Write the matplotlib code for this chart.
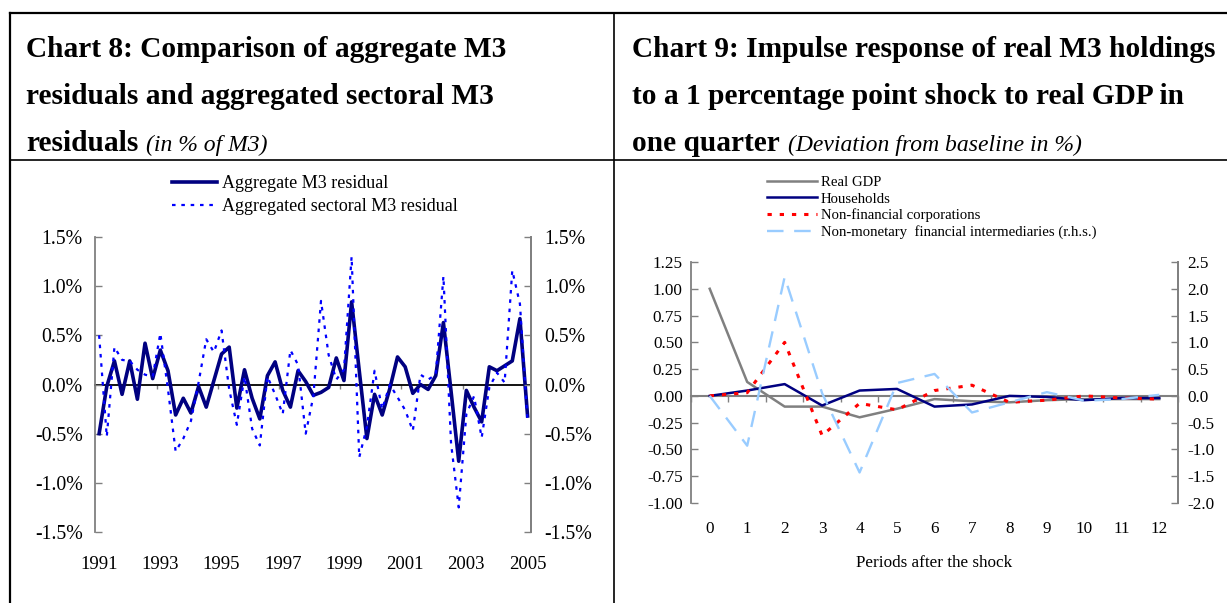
import matplotlib
matplotlib.use('Agg')
import matplotlib.pyplot as plt
from matplotlib.lines import Line2D
import numpy as np

plt.rcParams['font.family'] = ['Liberation Serif', 'DejaVu Serif']

# ---------------- Chart 8 data (quarterly, 1991Q1 - 2005Q1) ----------------
year_labels = ['1991', '1993', '1995', '1997', '1999', '2001', '2003', '2005']
aggregate = [-0.50, -0.02, 0.24, -0.10, 0.24, -0.15, 0.42, 0.06, 0.35, 0.14,
             -0.31, -0.14, -0.29, -0.02, -0.23, 0.04, 0.31, 0.38, -0.24, 0.15,
             -0.14, -0.35, 0.09, 0.23, -0.06, -0.23, 0.14, 0.03, -0.11, -0.08,
             -0.03, 0.27, 0.04, 0.84, 0.14, -0.55, -0.10, -0.31, -0.04, 0.28,
             0.18, -0.09, 0.00, -0.05, 0.09, 0.63, -0.07, -0.78, -0.06, -0.23,
             -0.38, 0.18, 0.14, 0.19, 0.24, 0.67, -0.32]
sectoral = [0.50, -0.53, 0.38, 0.25, 0.24, 0.15, 0.10, 0.08, 0.52, -0.05,
            -0.68, -0.55, -0.37, 0.02, 0.46, 0.33, 0.55, -0.05, -0.41, 0.08,
            -0.45, -0.62, 0.08, -0.10, -0.30, 0.35, 0.20, -0.50, -0.12, 0.85,
            0.30, 0.05, 0.15, 1.30, -0.74, -0.43, 0.14, -0.25, 0.00, -0.13,
            -0.26, -0.47, 0.10, 0.05, 0.10, 1.10, -0.60, -1.25, -0.30, -0.12,
            -0.54, -0.03, 0.12, 0.02, 1.16, 0.82, -0.38]
pct_ticks = [-1.5, -1.0, -0.5, 0.0, 0.5, 1.0, 1.5]

# ---------------- Chart 9 data ----------------
periods = list(range(13))
real_gdp = [1.00, 0.13, -0.10, -0.10, -0.20, -0.12, -0.03, -0.05, -0.06, -0.04, -0.03, -0.03, -0.03]
households = [0.00, 0.05, 0.11, -0.09, 0.05, 0.065, -0.10, -0.08, 0.00, -0.01, -0.04, -0.02, -0.02]
nfc = [0.00, 0.03, 0.50, -0.37, -0.07, -0.13, 0.05, 0.10, -0.06, -0.04, 0.00, -0.02, -0.03]
nmfi_rhs = [0.00, -0.93, 2.22, 0.05, -1.43, 0.24, 0.41, -0.31, -0.12, 0.07, -0.09, -0.06, 0.02]
lhs_ticks = [-1.00, -0.75, -0.50, -0.25, 0.00, 0.25, 0.50, 0.75, 1.00, 1.25]
rhs_ticks = [-2.0, -1.5, -1.0, -0.5, 0.0, 0.5, 1.0, 1.5, 2.0, 2.5]

W, H = 1227, 603
fig = plt.figure(figsize=(W / 100, H / 100), dpi=100)


def fx(px):
    return px / W


def fy(py):
    return 1 - py / H


GRAY = '#808080'
NAVY = '#000080'

# ---------------- frame lines ----------------
for (x0, y0, x1, y1, lw) in [(10, 13, 1227, 13, 1.6), (10, 160, 1227, 160, 1.2),
                             (10, 13, 10, 603, 1.6), (614, 13, 614, 603, 1.2)]:
    fig.add_artist(Line2D([fx(x0), fx(x1)], [fy(y0), fy(y1)], color='black', lw=lw,
                          transform=fig.transFigure))

# ---------------- titles ----------------
tfs = 21.2
ifs = 17
fig.text(fx(26), fy(57), 'Chart 8: Comparison of aggregate M3', fontsize=tfs, fontweight='bold', va='baseline')
fig.text(fx(26), fy(104), 'residuals and aggregated sectoral M3', fontsize=tfs, fontweight='bold', va='baseline')
t8 = fig.text(fx(26), fy(151), 'residuals', fontsize=tfs, fontweight='bold', va='baseline')
fig.text(fx(632), fy(57), 'Chart 9: Impulse response of real M3 holdings', fontsize=tfs, fontweight='bold', va='baseline')
fig.text(fx(632), fy(104), 'to a 1 percentage point shock to real GDP in', fontsize=tfs, fontweight='bold', va='baseline')
t9 = fig.text(fx(632), fy(151), 'one quarter', fontsize=tfs, fontweight='bold', va='baseline')
r = fig.canvas.get_renderer()
bb8 = t8.get_window_extent(renderer=r)
bb9 = t9.get_window_extent(renderer=r)
fig.text((bb8.x1 + 8) / W, fy(151), '(in % of M3)', fontsize=ifs, style='italic', va='baseline')
fig.text((bb9.x1 + 8) / W, fy(151), '(Deviation from baseline in %)', fontsize=ifs, style='italic', va='baseline')

# ---------------- Chart 8 ----------------
n = len(aggregate)
xq = np.arange(n)
ax1 = fig.add_axes([fx(95.3), fy(532), (531.4 - 95.3) / W, (532 - 237) / H])
l_agg, = ax1.plot(xq, aggregate, color=NAVY, lw=2.6, label='Aggregate M3 residual', zorder=3)
l_sec, = ax1.plot(xq, sectoral, color='#0000FF', lw=1.6, ls=(0, (1.6, 2.6)),
                  label='Aggregated sectoral M3 residual', zorder=4)
ax1.set_xlim(-0.5, n - 0.5)
ax1.set_ylim(-1.5, 1.5)
for s in ['top', 'bottom']:
    ax1.spines[s].set_visible(False)
for s in ['left', 'right']:
    ax1.spines[s].set_color(GRAY)
    ax1.spines[s].set_linewidth(1.3)
ax1.set_yticks(pct_ticks)
ax1.set_yticklabels([f'{v:.1f}%' for v in pct_ticks])
ax1.tick_params(axis='y', direction='in', length=5, width=1, color=GRAY, labelsize=14.3, pad=9)
ax1.set_xticks(np.arange(0, n, 8))
ax1.set_xticklabels(year_labels)
ax1.tick_params(axis='x', length=0, labelsize=13.5, pad=17)

ax1r = ax1.twinx()
ax1r.set_ylim(-1.5, 1.5)
ax1r.set_yticks(pct_ticks)
ax1r.set_yticklabels([f'{v:.1f}%' for v in pct_ticks])
ax1r.tick_params(axis='y', direction='in', length=5, width=1, color=GRAY, labelsize=14.3, pad=9)
for s in ['top', 'bottom', 'left']:
    ax1r.spines[s].set_visible(False)
ax1r.spines['right'].set_color(GRAY)
ax1r.spines['right'].set_linewidth(1.3)

sec1 = ax1.secondary_xaxis(0.5)
sec1.set_alignment('bottom')
sec1.set_xticks(np.arange(-0.5, n, 8))
sec1.set_xticklabels([])
sec1.spines['bottom'].set_color('black')
sec1.spines['bottom'].set_linewidth(1.3)
sec1.tick_params(axis='x', direction='out', length=3, width=1, color=GRAY)

fig.legend(handles=[l_agg, l_sec], loc='upper left', bbox_to_anchor=(fx(172), fy(175)),
           bbox_transform=fig.transFigure, frameon=False, borderpad=0, borderaxespad=0,
           fontsize=13, handlelength=2.5, handletextpad=0.28, labelspacing=0.35)

# ---------------- Chart 9 ----------------
ax2 = fig.add_axes([fx(691), fy(503), (1178 - 691) / W, (503 - 262) / H])
g1, = ax2.plot(periods, real_gdp, color=GRAY, lw=1.8, label='Real GDP', zorder=3)
g2, = ax2.plot(periods, households, color=NAVY, lw=1.8, label='Households', zorder=4)
g3, = ax2.plot(periods, nfc, color='#FF0000', lw=2.2, ls=(0, (1.4, 2.6)),
               label='Non-financial corporations', zorder=5)
ax2.set_xlim(-0.5, 12.5)
ax2.set_ylim(-1.0, 1.25)
for s in ['top', 'bottom']:
    ax2.spines[s].set_visible(False)
for s in ['left', 'right']:
    ax2.spines[s].set_color(GRAY)
    ax2.spines[s].set_linewidth(1.3)
ax2.set_yticks(lhs_ticks)
ax2.set_yticklabels([f'{v:.2f}' for v in lhs_ticks])
ax2.tick_params(axis='y', direction='in', length=5, width=1, color=GRAY, labelsize=12.3, pad=6)
ax2.set_xticks(periods)
ax2.set_xticklabels([str(p) for p in periods])
ax2.tick_params(axis='x', length=0, labelsize=12.3, pad=13)
ax2.set_xlabel('Periods after the shock', fontsize=12.3, labelpad=13)

ax2r = ax2.twinx()
g4, = ax2r.plot(periods, nmfi_rhs, color='#99CCFF', lw=1.7, ls=(0, (7, 4.5)),
                label='Non-monetary  financial intermediaries (r.h.s.)')
ax2r.set_ylim(-2.0, 2.5)
ax2r.set_yticks(rhs_ticks)
ax2r.set_yticklabels([f'{v:.1f}' for v in rhs_ticks])
ax2r.tick_params(axis='y', direction='in', length=5, width=1, color=GRAY, labelsize=12.3, pad=7)
for s in ['top', 'bottom', 'left']:
    ax2r.spines[s].set_visible(False)
ax2r.spines['right'].set_color(GRAY)
ax2r.spines['right'].set_linewidth(1.3)

sec2 = ax2.secondary_xaxis((0 - (-1.0)) / 2.25)
sec2.set_alignment('bottom')
sec2.set_xticks(np.arange(-0.5, 13, 1))
sec2.set_xticklabels([])
sec2.spines['bottom'].set_color(GRAY)
sec2.spines['bottom'].set_linewidth(1.5)
sec2.tick_params(axis='x', direction='out', length=4, width=1, color=GRAY)

fig.legend(handles=[g1, g2, g3, g4], loc='upper left', bbox_to_anchor=(fx(767), fy(176)),
           bbox_transform=fig.transFigure, frameon=False, borderpad=0, borderaxespad=0,
           fontsize=10.6, handlelength=3.4, handletextpad=0.27, labelspacing=0.2)

fig.savefig('out.png', dpi=100)
